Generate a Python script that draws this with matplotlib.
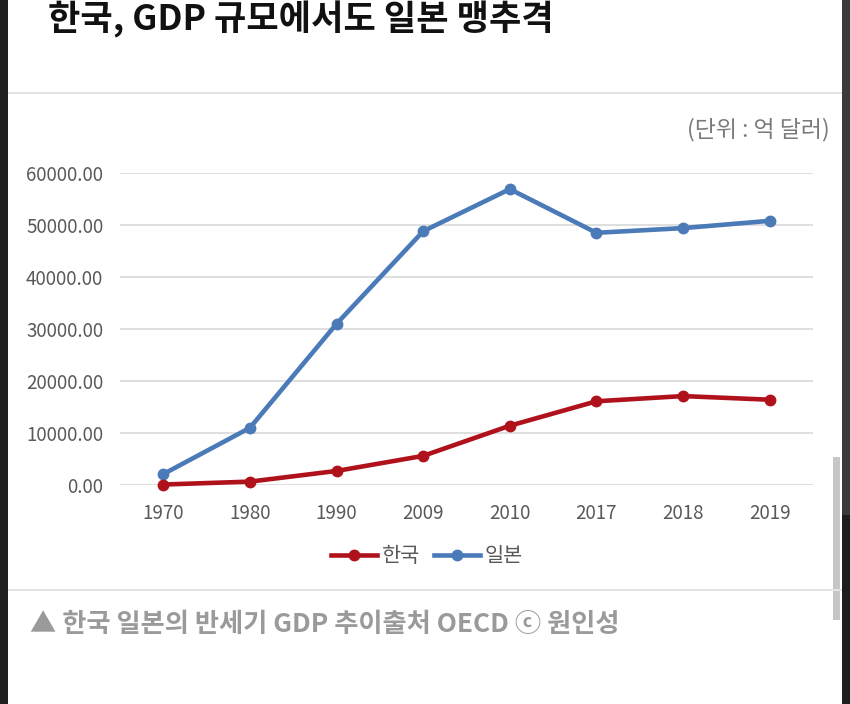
import matplotlib
matplotlib.use('Agg')
import matplotlib.pyplot as plt
from matplotlib.patches import Rectangle

plt.rcParams['font.family'] = ['Noto Sans CJK KR', 'DejaVu Sans']

# 데이터 (단위: 억 달러)
years = ['1970', '1980', '1990', '2009', '2010', '2017', '2018', '2019']
korea = [90, 650, 2700, 5600, 11400, 16100, 17100, 16400]
japan = [2100, 11000, 31000, 48800, 56900, 48500, 49400, 50800]
yticks = [0, 10000, 20000, 30000, 40000, 50000, 60000]

W, H = 850, 704
fig = plt.figure(figsize=(W / 100, H / 100), dpi=100)
fig.patch.set_facecolor('white')


def fx(px):
    return px / W


def fy(py):
    return 1 - py / H


def rect(x0, y0, x1, y1, color, z=0):
    fig.add_artist(Rectangle((fx(x0), fy(y1)), fx(x1) - fx(x0), fy(y0) - fy(y1),
                             transform=fig.transFigure, color=color, lw=0, zorder=z))


# 화면 테두리, 스크롤바, 구분선
rect(0, 0, 8, H, '#202020')
rect(842, 0, W, 515, '#3a3a3a')
rect(842, 515, W, H, '#1e1e1e')
rect(833, 457, 840, 620, '#c6c6c6')
rect(8, 92, 842, 94, '#e4e4e4')
rect(8, 589, 842, 591, '#e4e4e4')

fig.text(fx(48), fy(19), '한국, GDP 규모에서도 일본 맹추격', fontsize=25.3, fontweight='bold',
         color='#111111', ha='left', va='center')
fig.text(fx(30), fy(625), '▲ 한국 일본의 반세기 GDP 추이출처 OECD ⓒ 원인성', fontsize=18.9,
         fontweight='bold', color='#9a9a9a', ha='left', va='center')
fig.text(fx(830), fy(130), '(단위 : 억 달러)', fontsize=16.5, color='#7a7a7a',
         ha='right', va='center')

ax = fig.add_axes([fx(120), fy(485), fx(813) - fx(120), fy(173) - fy(485)])
x = list(range(len(years)))
ax.plot(x, korea, color='#b0121c', lw=3.3, marker='o', ms=7.5, label='한국',
        clip_on=False, zorder=4)
ax.plot(x, japan, color='#4a7ab8', lw=3.3, marker='o', ms=7.5, label='일본',
        clip_on=False, zorder=3)

ax.set_xlim(-0.5, len(years) - 0.5)
ax.set_ylim(0, 60000)
ax.set_xticks(x)
ax.set_xticklabels(years)
ax.set_yticks(yticks)
ax.set_yticklabels(['%.2f' % v for v in yticks])
ax.tick_params(length=0, labelsize=13.5, labelcolor='#595959')
ax.tick_params(axis='y', pad=12)
ax.tick_params(axis='x', pad=13)
ax.grid(axis='y', color='#d9d9d9', lw=1.2)
ax.set_axisbelow(True)
for s in ax.spines.values():
    s.set_visible(False)

ax.legend(loc='center', bbox_to_anchor=(fx(427), fy(556)), bbox_transform=fig.transFigure,
          ncol=2, frameon=False, fontsize=15, handlelength=2.2, handletextpad=0.2,
          columnspacing=0.7, labelcolor='#595959')

fig.savefig('out.png', dpi=100)
